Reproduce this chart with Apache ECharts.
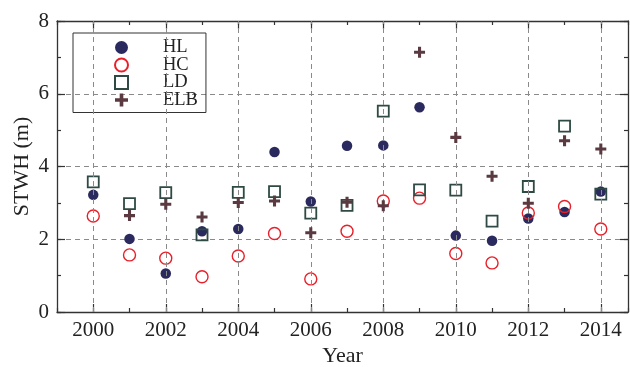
<!DOCTYPE html>
<html>
<head>
<meta charset="utf-8">
<script src="https://cdn.jsdelivr.net/npm/echarts@6/dist/echarts.min.js"></script>
<style>
html,body{margin:0;padding:0;background:#fff;}
#c{width:630px;height:367px;}
</style>
</head>
<body>
<div id="c"></div>
<script>
const years = [2000,2001,2002,2003,2004,2005,2006,2007,2008,2009,2010,2011,2012,2013,2014];
const hl  = [3.22,2.01,1.06,2.22,2.28,4.40,3.04,4.57,4.58,5.63,2.10,1.96,2.57,2.75,3.31];
const hc  = [2.64,1.57,1.48,0.97,1.54,2.16,0.91,2.22,3.05,3.13,1.61,1.35,2.72,2.90,2.28];
const ld  = [3.58,2.98,3.28,2.12,3.29,3.31,2.72,2.93,5.52,3.36,3.35,2.50,3.45,5.11,3.24];
const elb = [null,2.65,2.96,2.61,3.01,3.05,2.18,3.02,2.92,7.14,4.80,3.73,2.99,4.71,4.48];
const xTickLabels = [2000,2002,2004,2006,2008,2010,2012,2014];
const yTicks = [0,2,4,6,8];

const FONT = 'Liberation Serif';
const AXIS = '#333';
const plusPath = 'path://M3.6,0 H6.4 V3.6 H10 V6.4 H6.4 V10 H3.6 V6.4 H0 V3.6 H3.6 Z';

function pts(arr){ return years.map((y,i)=> arr[i]==null ? null : [y, arr[i]]).filter(p=>p); }

const gridRect = {left:57, right:2, top:21, bottom:55, outerBoundsMode:'none', containLabel:false};
const chart = echarts.init(document.getElementById('c'), null, {renderer:'canvas'});
chart.setOption({
  animation:false,
  backgroundColor:'#fff',
  grid:[Object.assign({}, gridRect), Object.assign({}, gridRect)],
  xAxis:[
    {gridIndex:0, type:'value', min:1999, max:2014.75, position:'bottom',
     axisLine:{show:true, onZero:false, lineStyle:{color:AXIS, width:1.3}},
     axisTick:{show:true, inside:true, length:8, customValues:xTickLabels, lineStyle:{color:AXIS, width:1.2}},
     axisLabel:{show:true, customValues:xTickLabels, formatter:v=>String(v), fontFamily:FONT, fontSize:21, color:'#222', margin:8},
     splitLine:{show:false},
     name:'Year', nameLocation:'middle', nameGap:33, nameMoveOverlap:false,
     nameTextStyle:{fontFamily:FONT, fontSize:22, color:'#222'}},
    {gridIndex:0, type:'value', min:1999, max:2014.75, position:'top',
     axisLine:{show:true, onZero:false, lineStyle:{color:AXIS, width:1.3}},
     axisTick:{show:true, inside:true, length:8, customValues:xTickLabels, lineStyle:{color:AXIS, width:1.2}},
     axisLabel:{show:false}, splitLine:{show:false}},
    {gridIndex:1, type:'value', min:1999, max:2014.75, interval:1, position:'bottom',
     axisLine:{show:false, onZero:false},
     axisTick:{show:true, inside:true, length:4, lineStyle:{color:AXIS, width:1.2}},
     axisLabel:{show:false}, splitLine:{show:false}},
    {gridIndex:1, type:'value', min:1999, max:2014.75, interval:1, position:'top',
     axisLine:{show:false, onZero:false},
     axisTick:{show:true, inside:true, length:4, lineStyle:{color:AXIS, width:1.2}},
     axisLabel:{show:false}, splitLine:{show:false}}
  ],
  yAxis:[
    {gridIndex:0, type:'value', min:yTicks[0], max:yTicks[yTicks.length-1], interval:2, position:'left',
     axisLine:{show:true, onZero:false, lineStyle:{color:AXIS, width:1.3}},
     axisTick:{show:true, inside:true, length:8, lineStyle:{color:AXIS, width:1.2}},
     axisLabel:{show:true, fontFamily:FONT, fontSize:21, color:'#222', margin:8},
     splitLine:{show:true, lineStyle:{color:'#8a8a8a', width:1, type:[5,4]}},
     name:'STWH (m)', nameLocation:'middle', nameGap:24, nameMoveOverlap:false,
     nameTextStyle:{fontFamily:FONT, fontSize:22, color:'#222'}},
    {gridIndex:0, type:'value', min:0, max:8, interval:2, position:'right',
     axisLine:{show:true, onZero:false, lineStyle:{color:AXIS, width:1.3}},
     axisTick:{show:true, inside:true, length:8, lineStyle:{color:AXIS, width:1.2}},
     axisLabel:{show:false}, splitLine:{show:false}},
    {gridIndex:1, type:'value', min:0, max:8, interval:1, position:'left',
     axisLine:{show:false, onZero:false},
     axisTick:{show:true, inside:true, length:4, lineStyle:{color:AXIS, width:1.2}},
     axisLabel:{show:false}, splitLine:{show:false}},
    {gridIndex:1, type:'value', min:0, max:8, interval:1, position:'right',
     axisLine:{show:false, onZero:false},
     axisTick:{show:true, inside:true, length:4, lineStyle:{color:AXIS, width:1.2}},
     axisLabel:{show:false}, splitLine:{show:false}}
  ],
  legend:{
    data:['HL','HC','LD','ELB'], orient:'vertical', left:73, top:33,
    itemWidth:13, itemHeight:13, itemGap:-1.5,
    padding:[5,8,3,41],
    borderColor:'#333', borderWidth:1, borderRadius:0,
    textStyle:{fontFamily:FONT, fontSize:18.5, color:'#222', padding:[0,0,0,30]},
    selectedMode:false
  },
  series:[
    {type:'scatter', xAxisIndex:0, yAxisIndex:0, data:[], z:1, silent:true,
     markLine:{silent:true, symbol:'none', label:{show:false},
       lineStyle:{color:'#8a8a8a', width:1, type:[5,4]},
       data: xTickLabels.map(v=>({xAxis:v}))}},
    {name:'HL', type:'scatter', xAxisIndex:0, yAxisIndex:0, data:pts(hl), z:3,
     symbol:'circle', symbolSize:10.5, itemStyle:{color:'#2b2a5e', opacity:1}},
    {name:'HC', type:'scatter', xAxisIndex:0, yAxisIndex:0, data:pts(hc), z:4,
     symbol:'circle', symbolSize:12,
     itemStyle:{color:'rgba(255,255,255,0)', borderColor:'#e8202a', borderWidth:1.4, opacity:1}},
    {name:'LD', type:'scatter', xAxisIndex:0, yAxisIndex:0, data:pts(ld), z:4,
     symbol:'rect', symbolSize:11,
     itemStyle:{color:'rgba(255,255,255,0)', borderColor:'#2f4a44', borderWidth:1.8, opacity:1}},
    {name:'ELB', type:'scatter', xAxisIndex:0, yAxisIndex:0, data:pts(elb), z:5,
     symbol:plusPath, symbolSize:11, itemStyle:{color:'#5a3a40', opacity:1}}
  ]
});
</script>
</body>
</html>
